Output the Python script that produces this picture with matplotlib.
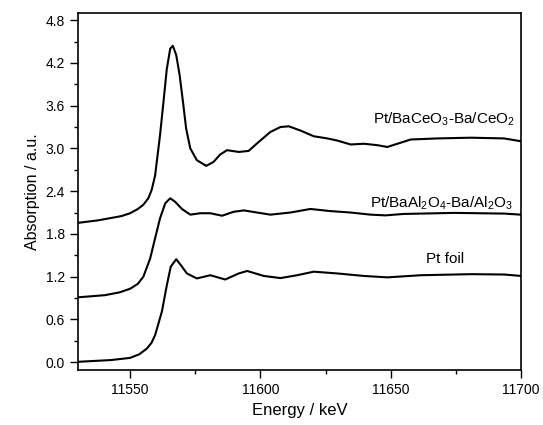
import matplotlib
matplotlib.use("Agg")
import matplotlib.pyplot as plt
from matplotlib.ticker import MultipleLocator, FormatStrFormatter

plt.rcParams['font.family'] = ['Liberation Sans', 'DejaVu Sans']
plt.rcParams['mathtext.fontset'] = 'custom'
plt.rcParams['mathtext.rm'] = 'Liberation Sans'
plt.rcParams['mathtext.it'] = 'Liberation Sans'

# Pt/BaCeO3-Ba/CeO2
ceo_e = [11530, 11537.7, 11546.7, 11550, 11553, 11555.1, 11557, 11558.3, 11559.6, 11561.5, 11562.8,
         11564.1, 11565.4, 11566.4, 11567.7, 11569.0, 11570.3, 11571.5, 11573.1,
         11575.6, 11579.2, 11582.0, 11584.6, 11587.2, 11591.7, 11595.5, 11598.7,
         11603.8, 11607.7, 11610.9, 11615.4, 11620.5, 11625.7, 11629.5, 11634.6,
         11639.7, 11644.9, 11648.7, 11657.7, 11668.0, 11680.8, 11693.5, 11700]
ceo_v = [1.955, 1.99, 2.05, 2.09, 2.15, 2.21, 2.30, 2.42, 2.62, 3.19, 3.65,
         4.12, 4.40, 4.44, 4.31, 4.03, 3.65, 3.28, 3.00,
         2.835, 2.755, 2.81, 2.915, 2.975, 2.95, 2.965, 3.07,
         3.23, 3.30, 3.31, 3.25, 3.17, 3.14, 3.11, 3.055,
         3.065, 3.045, 3.02, 3.125, 3.14, 3.15, 3.14, 3.10]

# Pt/BaAl2O4-Ba/Al2O3
al_e = [11530, 11540.3, 11546, 11550, 11553, 11555.1, 11557.7, 11559.6, 11561.5, 11563.5,
        11565.4, 11567.3, 11569.9, 11573.1, 11576.9, 11580.8, 11585.3, 11589.7,
        11593.6, 11603.8, 11611.5, 11619.2, 11626.9, 11634.6, 11642.3, 11648.0,
        11655.0, 11674.4, 11693.6, 11700]
al_v = [0.91, 0.94, 0.98, 1.03, 1.10, 1.20, 1.455, 1.74, 2.02, 2.23,
        2.30, 2.25, 2.15, 2.07, 2.09, 2.09, 2.055, 2.11,
        2.13, 2.07, 2.10, 2.15, 2.12, 2.10, 2.07, 2.06,
        2.08, 2.095, 2.085, 2.07]

# Pt foil
pt_e = [11530, 11542.8, 11550, 11553.5, 11556.4, 11558.2, 11559.6, 11562.2, 11564.1, 11565.6, 11567.7,
        11569.5, 11571.8, 11575.6, 11580.8, 11586.5, 11591.7, 11594.9, 11601.3,
        11607.7, 11614.1, 11620.5, 11629.5, 11639.7, 11648.7, 11661.5, 11680.8,
        11693.6, 11700]
pt_v = [0.005, 0.03, 0.06, 0.11, 0.19, 0.27, 0.38, 0.71, 1.08, 1.34, 1.445,
        1.36, 1.245, 1.175, 1.22, 1.16, 1.245, 1.28, 1.21,
        1.18, 1.22, 1.27, 1.245, 1.21, 1.19, 1.22, 1.235,
        1.23, 1.21]

labels = [r"Pt/BaCeO$_3$-Ba/CeO$_2$", r"Pt/BaAl$_2$O$_4$-Ba/Al$_2$O$_3$", "Pt foil"]
label_x = [11670.4, 11669.6, 11670.8]
label_y = [3.41, 2.23, 1.45]

fig = plt.figure(figsize=(5.43, 4.25), dpi=100)
ax = fig.add_axes([0.1436, 0.1294, 0.8159, 0.84])

for e, v in [(ceo_e, ceo_v), (al_e, al_v), (pt_e, pt_v)]:
    ax.plot(e, v, color='black', lw=1.5, solid_joinstyle='round', solid_capstyle='round')

for t, x, y in zip(labels, label_x, label_y):
    ax.text(x, y, t, ha='center', va='center', fontsize=11)

ax.set_xlim(11530, 11700)
ax.set_ylim(-0.11, 4.9)
ax.xaxis.set_major_locator(MultipleLocator(50))
ax.xaxis.set_minor_locator(MultipleLocator(25))
ax.yaxis.set_major_locator(MultipleLocator(0.6))
ax.yaxis.set_minor_locator(MultipleLocator(0.3))
ax.yaxis.set_major_formatter(FormatStrFormatter('%.1f'))
ax.tick_params(which='major', direction='out', length=6, width=1.0, labelsize=10)
ax.tick_params(which='minor', direction='out', length=3, width=1.0)
ax.tick_params(top=False, right=False)
for s in ax.spines.values():
    s.set_linewidth(1.2)

ax.set_xlabel("Energy / keV", fontsize=12)
ax.set_ylabel("Absorption / a.u.", fontsize=11.5)

fig.savefig("out.png", dpi=100)
